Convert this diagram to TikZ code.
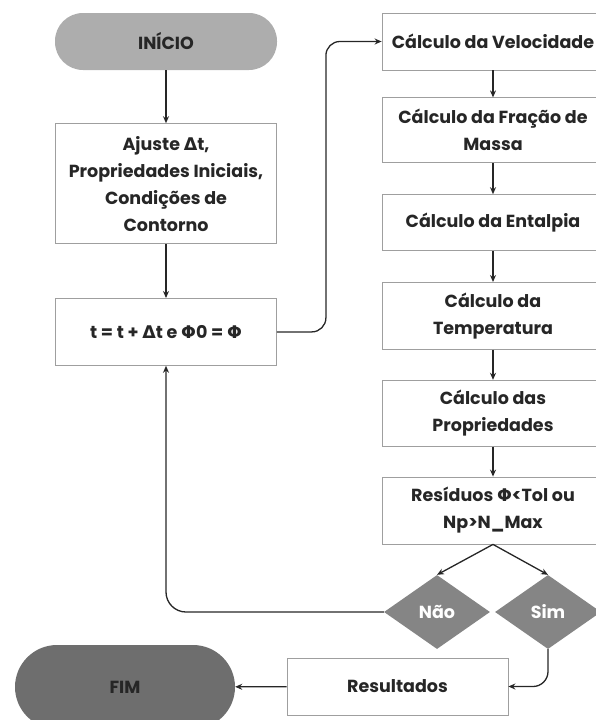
\documentclass[tikz,border=0pt]{standalone}
\usepackage{fontspec}
\setmainfont{Poppins}
\newfontfamily\grk{DejaVu Sans}
\usetikzlibrary{positioning,shapes.geometric,arrows.meta}

\begin{document}
\begin{tikzpicture}[
  font=\fontsize{17.5}{27}\selectfont\bfseries,
  node distance=30pt,
  box/.style={draw=gray!75, line width=0.8pt, align=center, inner sep=2pt,
    minimum width=221pt, text=black!85},
  term/.style={rounded corners=28pt, minimum width=222pt, minimum height=57pt,
    align=center, text=black!85},
  decis/.style={diamond, fill=black!48, text=white, inner sep=0pt,
    minimum width=106pt, minimum height=74pt, aspect=1.43},
  arr/.style={-{Stealth[length=7pt,width=6pt]}, line width=1.3pt, black!85}
]
\useasboundingbox (0,0) rectangle (595pt,-720pt);

% Coluna esquerda
\node[term, fill=black!32] (inicio) at (166pt,-41.5pt) {INÍCIO};
\node[box, minimum height=120pt, below=53pt of inicio] (ajuste)
  {Ajuste {\grk Δ}t,\\Propriedades Iniciais,\\Condições de\\Contorno};
\node[box, minimum height=67pt, below=54pt of ajuste] (passo)
  {t = t + {\grk Δ}t e {\grk Φ}0 = {\grk Φ}};

% Coluna direita
\node[box, minimum width=222pt, minimum height=57pt] (veloc) at (493pt,-41.5pt)
  {Cálculo da Velocidade};
\node[box, minimum width=222pt, minimum height=65pt, below=27pt of veloc] (fracao)
  {Cálculo da Fração de\\Massa};
\node[box, minimum width=222pt, minimum height=56pt, below=31pt of fracao] (entalpia)
  {Cálculo da Entalpia};
\node[box, minimum width=222pt, minimum height=67pt, below=31pt of entalpia] (temper)
  {Cálculo da\\Temperatura};
\node[box, minimum width=222pt, minimum height=66pt, below=30pt of temper] (propr)
  {Cálculo das\\Propriedades};
\node[box, minimum width=222pt, minimum height=67pt, below=30pt of propr] (resid)
  {Resíduos {\grk Φ}<Tol ou\\Np>N\_Max};

% Decisões
\node[decis] (nao) at (437pt,-612pt) {Não};
\node[decis] (sim) at (548pt,-612pt) {Sim};

% Fim
\node[box, minimum height=57pt] (result) at (397.5pt,-686.5pt) {Resultados};
\node[term, fill=black!57, rounded corners=42pt, minimum width=220pt,
  minimum height=84pt] (fim) at (125pt,-687pt) {FIM};

% Setas
\draw[arr] (inicio) -- (ajuste);
\draw[arr] (ajuste) -- (passo);
\draw[arr, rounded corners=14pt] (passo.east) -- ++(49pt,0) |- (veloc.west);
\draw[arr] (veloc) -- (fracao);
\draw[arr] (fracao) -- (entalpia);
\draw[arr] (entalpia) -- (temper);
\draw[arr] (temper) -- (propr);
\draw[arr] (propr) -- (resid);
\draw[arr] (resid.south) -- (nao.north);
\draw[arr] (resid.south) -- (sim.north);
\draw[arr, rounded corners=20pt] (nao.west) -| (passo.south);
\draw[arr, rounded corners=15pt] (sim.south) |- (result.east);
\draw[arr] (result) -- (fim);

\end{tikzpicture}
\end{document}
